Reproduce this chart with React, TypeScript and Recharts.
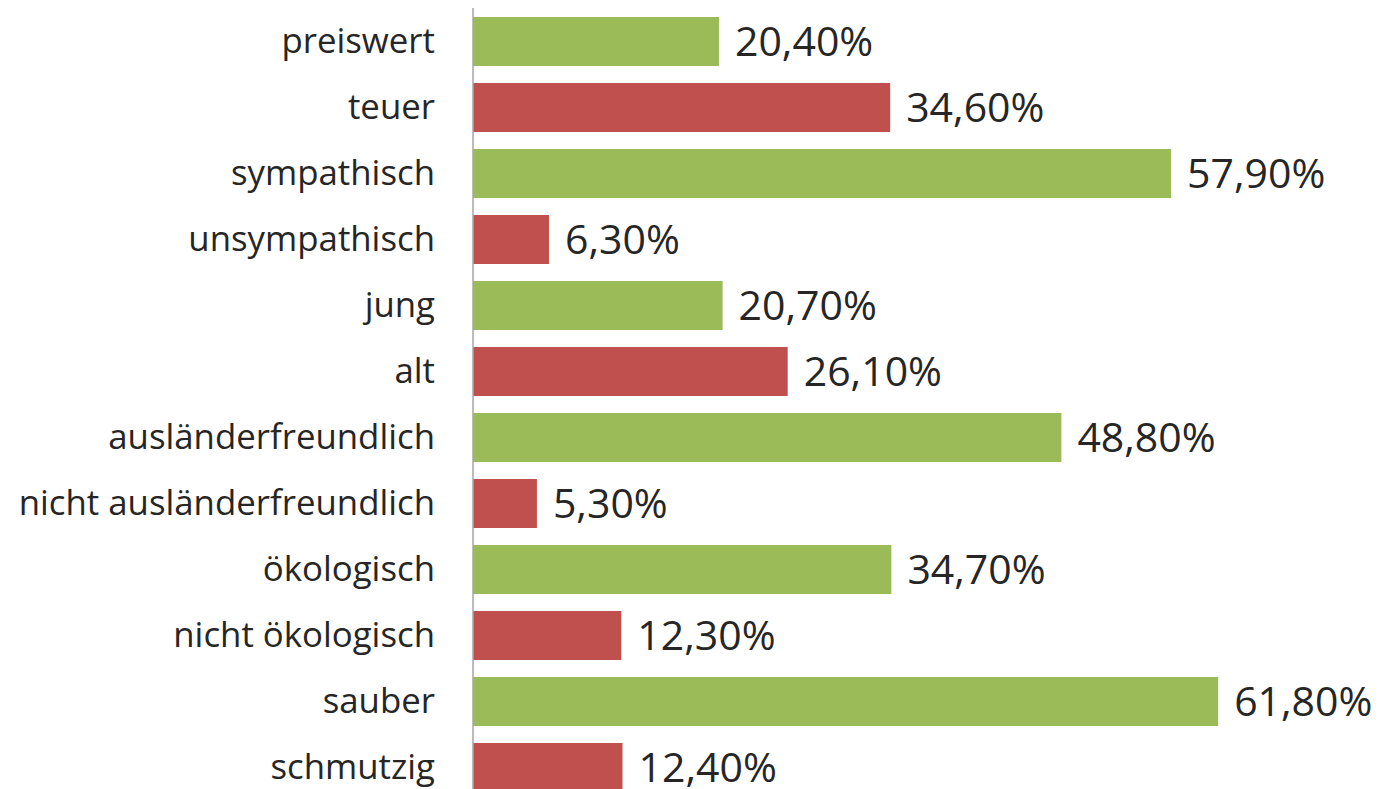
import React from 'react';
import { BarChart, Bar, XAxis, YAxis, Cell, LabelList } from 'recharts';

const categories = [
  'preiswert',
  'teuer',
  'sympathisch',
  'unsympathisch',
  'jung',
  'alt',
  'ausländerfreundlich',
  'nicht ausländerfreundlich',
  'ökologisch',
  'nicht ökologisch',
  'sauber',
  'schmutzig',
];

const values = [20.4, 34.6, 57.9, 6.3, 20.7, 26.1, 48.8, 5.3, 34.7, 12.3, 61.8, 12.4];

const COLORS = ['#9BBB59', '#C0504D'];
const FONT = '"Open Sans", "Noto Sans", sans-serif';

const data = categories.map((name, i) => ({ name, value: values[i] }));

const fmt = (v: any) => `${Number(v).toFixed(2).replace('.', ',')}%`;

export default function App() {
  return (
    <div style={{ position: 'fixed', top: 0, left: 0, width: 1383, height: 789, overflow: 'hidden', background: '#fff' }}>
      <BarChart
        width={1383}
        height={800}
        data={data}
        layout="vertical"
        margin={{ top: 8, right: 66, bottom: 0, left: 8 }}
        barSize={49}
      >
        <XAxis type="number" domain={[0, 70]} hide />
        <YAxis
          type="category"
          dataKey="name"
          width={465}
          interval={0}
          tickLine={false}
          tickSize={6}
          tickMargin={32}
          axisLine={{ stroke: '#A6A6A6', strokeWidth: 1.5 }}
          tick={{ fill: '#262626', fontSize: 34.8, fontFamily: FONT }}
        />
        <Bar dataKey="value" isAnimationActive={false}>
          {data.map((d, i) => (
            <Cell key={d.name} fill={COLORS[i % 2]} />
          ))}
          <LabelList
            dataKey="value"
            position="right"
            offset={16}
            formatter={fmt}
            style={{ fill: '#262626', fontSize: 41, fontFamily: FONT }}
          />
        </Bar>
      </BarChart>
    </div>
  );
}
